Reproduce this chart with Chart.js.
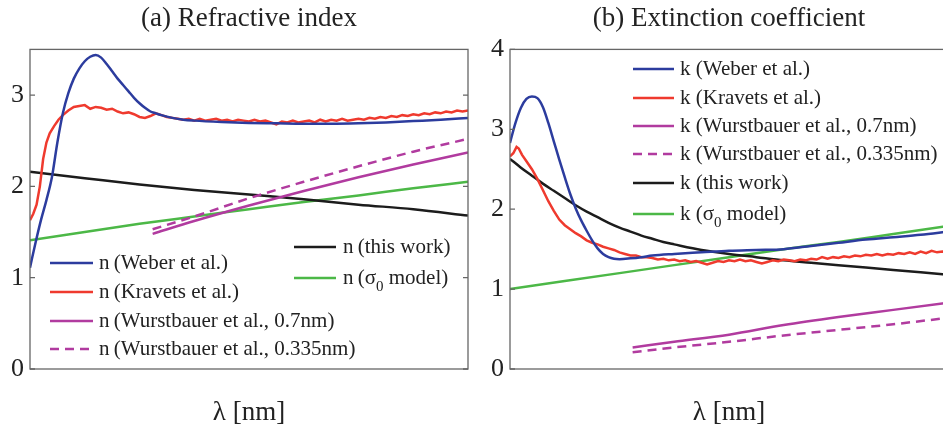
<!DOCTYPE html>
<html>
<head>
<meta charset="utf-8">
<script src="https://cdn.jsdelivr.net/npm/chart.js@4.4.1/dist/chart.umd.min.js"></script>
<style>
  html, body { margin: 0; padding: 0; background: #fff; overflow: hidden; width: 943px; height: 434px; }
  .panel { position: absolute; top: 0; width: 480px; height: 434px; }
  #panelA { left: 0; }
  #panelB { left: 470px; }
</style>
</head>
<body>
<div class="panel" id="panelA"><canvas id="chartA" width="480" height="434"></canvas></div>
<div class="panel" id="panelB"><canvas id="chartB" width="480" height="434"></canvas></div>
<script>
// ---- Refractive index n(λ) ----
const wlNWeber = [250,255,260,265,270,275,280,285,290,295,300,305,310,315,320,325,330,335,340,345,350,355,360,365,370,380,390,400,425,450,475,500,525,550,575,600,625,650];
const nWeber   = [1.11,1.38,1.63,1.85,2.10,2.48,2.80,3.02,3.18,3.29,3.37,3.42,3.44,3.41,3.34,3.26,3.18,3.11,3.04,2.97,2.91,2.86,2.82,2.80,2.78,2.75,2.73,2.72,2.705,2.695,2.69,2.685,2.685,2.69,2.70,2.715,2.73,2.75];

const wlNKravets = [250,253,256,259,262,265,268,272,276,280,285,290,295,300,305,310,315,320,325,330,335,340,345,350,355,360,365,370,375,380,385,390,395,400,405,410,415,420,425,430,435,440,445,450,455,460,465,470,475,480,485,490,495,500,505,510,515,520,525,530,535,540,545,550,555,560,565,570,575,580,585,590,595,600,605,610,615,620,625,630,635,640,645,650];
const nKravets   = [1.63,1.70,1.80,2.00,2.30,2.48,2.58,2.66,2.73,2.78,2.83,2.87,2.88,2.89,2.85,2.87,2.86,2.84,2.85,2.82,2.80,2.81,2.79,2.76,2.75,2.77,2.80,2.78,2.76,2.75,2.74,2.73,2.74,2.72,2.74,2.72,2.73,2.74,2.72,2.73,2.71,2.73,2.72,2.71,2.73,2.71,2.72,2.70,2.68,2.71,2.70,2.72,2.70,2.71,2.72,2.70,2.73,2.71,2.73,2.72,2.74,2.72,2.73,2.74,2.73,2.75,2.74,2.76,2.75,2.77,2.76,2.78,2.77,2.79,2.78,2.80,2.79,2.81,2.80,2.82,2.81,2.83,2.82,2.83];

const wlModel    = [250,300,350,400,450,500,550,600,650];
const nThisWork  = [2.16,2.09,2.02,1.96,1.91,1.86,1.80,1.75,1.68];
const nSigma0    = [1.41,1.50,1.59,1.67,1.75,1.83,1.90,1.98,2.05];

const wlWurst    = [362,400,450,500,550,600,650];
const nWurst07   = [1.48,1.62,1.79,1.95,2.10,2.24,2.37];
const nWurst0335 = [1.53,1.67,1.87,2.05,2.22,2.38,2.52];

// ---- Extinction coefficient k(λ) ----
const wlKWeber = [250,255,260,265,270,275,280,285,290,295,300,305,310,315,320,325,330,335,340,345,350,360,370,380,400,425,450,475,500,525,550,575,600,625,650];
const kWeber   = [2.83,3.08,3.27,3.38,3.41,3.39,3.28,3.08,2.85,2.62,2.40,2.19,2.01,1.86,1.73,1.61,1.51,1.44,1.40,1.38,1.375,1.385,1.40,1.42,1.44,1.46,1.48,1.49,1.50,1.54,1.58,1.62,1.65,1.68,1.72];

const wlKKravets = [250,253,256,258,261,265,270,275,280,285,290,295,300,305,310,315,320,325,330,335,340,345,350,355,360,365,370,375,380,385,390,395,400,405,410,415,420,425,430,435,440,445,450,455,460,465,470,475,480,485,490,495,500,505,510,515,520,525,530,535,540,545,550,555,560,565,570,575,580,585,590,595,600,605,610,615,620,625,630,635,640,645,650];
const kKravets   = [2.66,2.70,2.78,2.76,2.68,2.60,2.50,2.38,2.24,2.10,1.98,1.87,1.80,1.75,1.70,1.66,1.61,1.58,1.56,1.53,1.51,1.49,1.46,1.44,1.42,1.42,1.40,1.40,1.39,1.37,1.38,1.36,1.37,1.35,1.36,1.34,1.35,1.33,1.31,1.33,1.35,1.34,1.36,1.35,1.37,1.35,1.36,1.34,1.32,1.34,1.36,1.35,1.37,1.36,1.35,1.37,1.36,1.38,1.37,1.40,1.38,1.40,1.39,1.41,1.40,1.42,1.41,1.43,1.42,1.44,1.42,1.44,1.43,1.45,1.44,1.46,1.44,1.47,1.45,1.48,1.46,1.47,1.46];

const wlKThis   = [250,260,270,280,290,300,310,320,330,340,350,360,370,380,390,400,425,450,475,500,525,550,575,600,625,650];
const kThisWork = [2.63,2.52,2.42,2.32,2.23,2.14,2.05,1.97,1.90,1.83,1.77,1.72,1.67,1.63,1.59,1.56,1.49,1.44,1.40,1.36,1.33,1.30,1.27,1.24,1.21,1.18];

const kSigma0    = [1.00,1.10,1.20,1.30,1.40,1.50,1.59,1.69,1.79];
const kWurst07   = [0.27,0.34,0.43,0.55,0.65,0.74,0.83];
const kWurst0335 = [0.21,0.27,0.34,0.42,0.49,0.56,0.64];

// ---- colours ----
const BLUE = '#2c3c9e', RED = '#ef3a2e', MAGENTA = '#b13b9f', BLACK = '#1c1c1c', GREEN = '#4cb847';
const SERIF = "'Liberation Serif', 'Times New Roman', serif";

Chart.defaults.font.family = SERIF;
Chart.defaults.color = '#222';

const pts = (wl, v) => wl.map((x, i) => ({ x, y: v[i] }));

function series(label, wl, v, color, opts = {}) {
  return Object.assign({
    label, data: pts(wl, v), borderColor: color, backgroundColor: color,
    borderWidth: 2.5, pointRadius: 0, fill: false, tension: 0
  }, opts);
}

// Box around the plot area with inward ticks on all four sides
const frameTicks = {
  id: 'frameTicks',
  afterDatasetsDraw(chart, args, o) {
    const { ctx, chartArea: a, scales: { x, y } } = chart;
    ctx.save();
    ctx.strokeStyle = o.color;
    ctx.lineWidth = o.width;
    ctx.strokeRect(a.left, a.top, a.right - a.left, a.bottom - a.top);
    ctx.beginPath();
    x.ticks.forEach(t => {
      const px = x.getPixelForValue(t.value);
      ctx.moveTo(px, a.bottom); ctx.lineTo(px, a.bottom - o.length);
      ctx.moveTo(px, a.top); ctx.lineTo(px, a.top + o.length);
    });
    y.ticks.forEach(t => {
      const py = y.getPixelForValue(t.value);
      ctx.moveTo(a.left, py); ctx.lineTo(a.left + o.length, py);
      ctx.moveTo(a.right, py); ctx.lineTo(a.right - o.length, py);
    });
    ctx.stroke();
    ctx.restore();
  }
};

// Legend rows placed inside the plot; "₀" is rendered as a lowered small 0
const inlineLegend = {
  id: 'inlineLegend',
  afterDraw(chart, args, o) {
    const ctx = chart.ctx;
    ctx.save();
    o.rows.forEach(r => {
      const ds = chart.data.datasets[r.index];
      ctx.strokeStyle = ds.borderColor;
      ctx.lineWidth = ds.borderWidth;
      ctx.setLineDash(ds.borderDash || []);
      ctx.beginPath();
      ctx.moveTo(r.x0, r.y); ctx.lineTo(r.x1, r.y);
      ctx.stroke();
      ctx.setLineDash([]);
      ctx.fillStyle = o.color;
      ctx.textBaseline = 'middle';
      ctx.textAlign = 'left';
      let tx = r.tx;
      const parts = ds.label.split('₀');
      parts.forEach((p, i) => {
        ctx.font = o.font;
        ctx.fillText(p, tx, r.y);
        tx += ctx.measureText(p).width;
        if (i < parts.length - 1) {
          ctx.font = o.subFont;
          ctx.fillText('0', tx, r.y + o.subShift);
          tx += ctx.measureText('0').width;
        }
      });
    });
    ctx.restore();
  }
};

function makeOptions(title, yMax, yWidth, padRight, legendRows) {
  return {
    responsive: false,
    animation: false,
    events: [],
    layout: { padding: { left: 0, right: padRight, top: 0, bottom: 0 } },
    scales: {
      x: {
        type: 'linear', min: 250, max: 650,
        afterBuildTicks: s => { s.ticks = s.ticks.filter(t => t.value % 100 === 0); },
        ticks: { stepSize: 100, font: { size: 26 }, padding: 6, maxRotation: 0, autoSkip: false, color: '#222' },
        grid: { display: false, drawTicks: false },
        border: { display: false },
        title: { display: true, text: 'λ [nm]', font: { size: 27 }, color: '#222', padding: { top: 0, bottom: 5 } },
        afterFit: s => { s.height = 65; }
      },
      y: {
        type: 'linear', min: 0, max: yMax,
        afterBuildTicks: s => { s.ticks = s.ticks.filter(t => Number.isInteger(t.value)); },
        ticks: { stepSize: 1, font: { size: 26 }, padding: 6, color: '#222' },
        grid: { display: false, drawTicks: false },
        border: { display: false },
        afterFit: s => { s.width = yWidth; }
      }
    },
    plugins: {
      legend: { display: false },
      tooltip: { enabled: false },
      title: {
        display: true, text: title, fullSize: false, color: '#222',
        font: { size: 27, weight: 'normal', family: SERIF },
        padding: { top: 3, bottom: 14 }
      },
      frameTicks: { color: '#666', width: 1.3, length: 5 },
      inlineLegend: {
        rows: legendRows, color: '#222',
        font: '21px ' + SERIF, subFont: '15px ' + SERIF, subShift: 9
      }
    }
  };
}

const dash = { borderDash: [9, 6] };

new Chart(document.getElementById('chartA'), {
  type: 'line',
  data: {
    datasets: [
      series('n\u2009(Weber et al.)', wlNWeber, nWeber, BLUE, { cubicInterpolationMode: 'monotone' }),
      series('n\u2009(Kravets et al.)', wlNKravets, nKravets, RED),
      series('n\u2009(Wurstbauer et al., 0.7nm)', wlWurst, nWurst07, MAGENTA, { cubicInterpolationMode: 'monotone' }),
      series('n\u2009(Wurstbauer et al., 0.335nm)', wlWurst, nWurst0335, MAGENTA, Object.assign({ cubicInterpolationMode: 'monotone' }, dash)),
      series('n\u2009(this work)', wlModel, nThisWork, BLACK, { cubicInterpolationMode: 'monotone' }),
      series('n\u2009(σ₀ model)', wlModel, nSigma0, GREEN, { cubicInterpolationMode: 'monotone' })
    ]
  },
  options: makeOptions('(a) Refractive index', 3.5, 30, 12, [
    { index: 0, x0: 50, x1: 93, tx: 99, y: 263 },
    { index: 1, x0: 50, x1: 93, tx: 99, y: 292 },
    { index: 2, x0: 50, x1: 93, tx: 99, y: 321 },
    { index: 3, x0: 50, x1: 93, tx: 99, y: 349 },
    { index: 4, x0: 294, x1: 336, tx: 343, y: 247 },
    { index: 5, x0: 294, x1: 336, tx: 343, y: 278 }
  ]),
  plugins: [frameTicks, inlineLegend]
});

new Chart(document.getElementById('chartB'), {
  type: 'line',
  data: {
    datasets: [
      series('k (Weber et al.)', wlKWeber, kWeber, BLUE, { cubicInterpolationMode: 'monotone' }),
      series('k (Kravets et al.)', wlKKravets, kKravets, RED),
      series('k (Wurstbauer et al., 0.7nm)', wlWurst, kWurst07, MAGENTA, { cubicInterpolationMode: 'monotone' }),
      series('k (Wurstbauer et al., 0.335nm)', wlWurst, kWurst0335, MAGENTA, Object.assign({ cubicInterpolationMode: 'monotone' }, dash)),
      series('k (this work)', wlKThis, kThisWork, BLACK, { cubicInterpolationMode: 'monotone' }),
      series('k (σ₀ model)', wlModel, kSigma0, GREEN, { cubicInterpolationMode: 'monotone' })
    ]
  },
  options: makeOptions('(b) Extinction coefficient', 4, 40, 2, [
    { index: 0, x0: 163, x1: 204, tx: 210, y: 69 },
    { index: 1, x0: 163, x1: 204, tx: 210, y: 98 },
    { index: 2, x0: 163, x1: 204, tx: 210, y: 126 },
    { index: 3, x0: 163, x1: 204, tx: 210, y: 154 },
    { index: 4, x0: 163, x1: 204, tx: 210, y: 183 },
    { index: 5, x0: 163, x1: 204, tx: 210, y: 214 }
  ]),
  plugins: [frameTicks, inlineLegend]
});
</script>
</body>
</html>
